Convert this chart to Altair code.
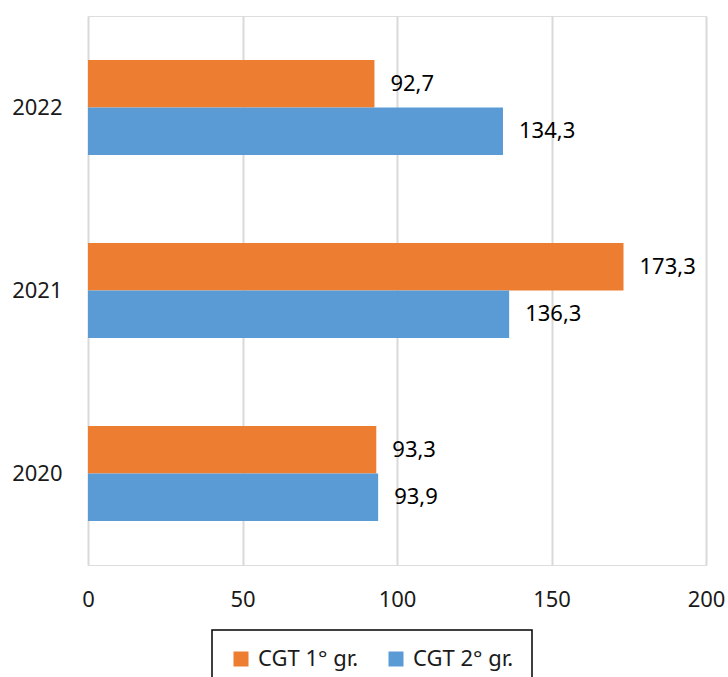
import altair as alt
import pandas as pd

years = ["2022", "2021", "2020"]
series = ["CGT 1° gr.", "CGT 2° gr."]
first_grade = [92.7, 173.3, 93.3]
second_grade = [134.3, 136.3, 93.9]
colors = ["#ED7D31", "#5B9BD5"]

rows = []
for y, a, b in zip(years, first_grade, second_grade):
    rows.append({"year": y, "series": series[0], "value": a})
    rows.append({"year": y, "series": series[1], "value": b})
df = pd.DataFrame(rows)

FONT = "Noto Sans"
FS = 22

base = alt.Chart(df).encode(
    y=alt.Y("year:N", sort=years, title=None,
            scale=alt.Scale(paddingInner=0.48, paddingOuter=0.24),
            axis=alt.Axis(domain=False, ticks=False, labelFontSize=FS,
                          labelPadding=26, labelColor="#1A1A1A", labelFont=FONT)),
    yOffset=alt.YOffset("series:N", sort=series, scale=alt.Scale(paddingInner=0.0)),
)

bars = base.mark_bar().encode(
    x=alt.X("value:Q", title=None,
            scale=alt.Scale(domain=[0, 200], nice=False),
            axis=alt.Axis(values=[0, 50, 100, 150, 200], domain=False, ticks=False,
                          grid=True, gridColor="#D9D9D9", gridWidth=2,
                          labelFontSize=FS, labelPadding=24, labelColor="#1A1A1A",
                          labelFont=FONT, labelFlush=False)),
    color=alt.Color("series:N", sort=series,
                    scale=alt.Scale(domain=series, range=colors),
                    legend=alt.Legend(title=None, orient="none", direction="horizontal",
                                      legendX=124, legendY=614, symbolType="square",
                                      symbolSize=225, symbolStrokeWidth=0,
                                      labelFontSize=FS, labelColor="#1A1A1A",
                                      labelFont=FONT, labelOffset=6,
                                      columnPadding=26, padding=18,
                                      strokeColor="#000000")),
)

labels = base.mark_text(align="left", baseline="middle", dx=16, fontSize=FS,
                        font=FONT, color="#000000").transform_calculate(
    label="replace(format(datum.value, '.1f'), '.', ',')"
).encode(
    x=alt.X("value:Q"),
    text=alt.Text("label:N"),
)

chart = alt.layer(bars, labels).properties(
    width=618, height=549,
    autosize=alt.AutoSizeParams(type="none"),
    padding={"left": 88, "top": 16, "right": 22, "bottom": 112},
).configure_view(stroke=None).configure(background="#FFFFFF").configure_legend(strokeWidth=1.5)

chart.save("out.html", embed_options={"renderer": "svg", "actions": False})
